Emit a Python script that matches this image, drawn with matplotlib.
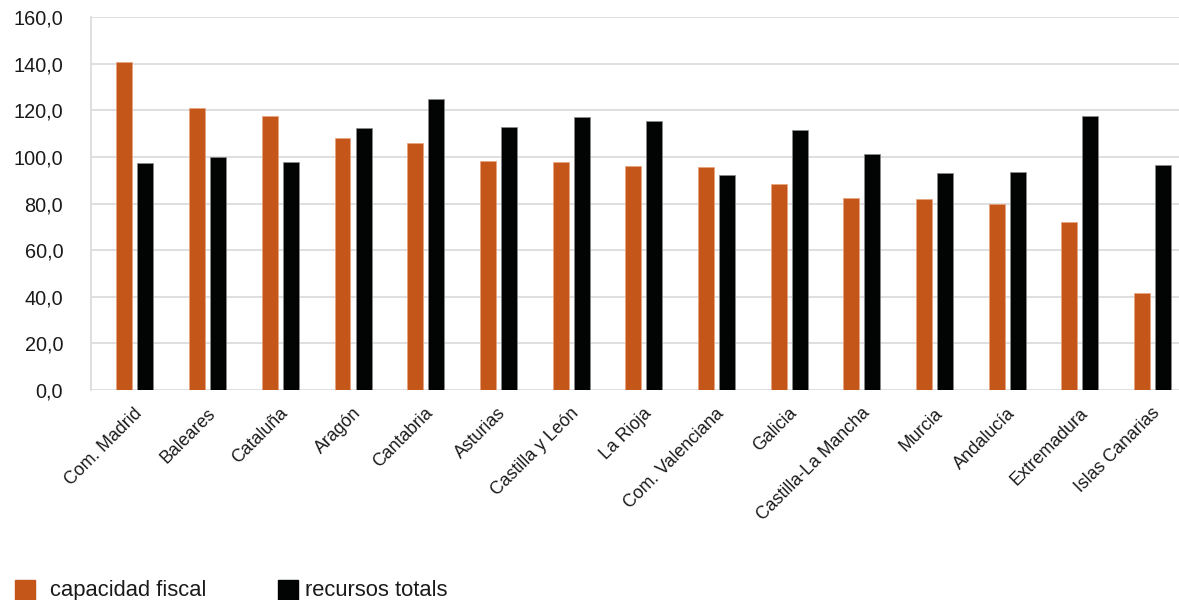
import matplotlib
matplotlib.use("Agg")
import matplotlib.pyplot as plt
from matplotlib.patches import Rectangle
import numpy as np

# datos
regiones = ["Com. Madrid", "Baleares", "Cataluña", "Aragón", "Cantabria",
            "Asturias", "Castilla y León", "La Rioja", "Com. Valenciana",
            "Galicia", "Castilla-La Mancha", "Murcia", "Andalucía",
            "Extremadura", "Islas Canarias"]
capacidad_fiscal = [140.8, 121.2, 117.7, 108.1, 106.2, 98.1, 97.8, 96.3,
                    95.6, 88.3, 82.4, 82.2, 79.9, 72.1, 41.7]
recursos_totales = [97.5, 100.0, 97.9, 112.4, 124.9, 113.1, 117.1, 115.6,
                    92.3, 111.7, 101.4, 93.3, 93.7, 117.6, 96.8]
yticks = [0, 20, 40, 60, 80, 100, 120, 140, 160]

naranja = "#C4561A"
negro = "#020403"
gris = "#dcdcdc"

plt.rcParams['font.family'] = ['Liberation Sans', 'DejaVu Sans']

fig = plt.figure(figsize=(11.79, 6.0), dpi=100)
ax = fig.add_axes([91/1179, 210/600, 1088/1179, 372.7/600])

x = np.arange(len(regiones))
w = 0.22
d = 0.1445
ax.bar(x - d, capacidad_fiscal, w, color=naranja, edgecolor="#e9a27c",
       linewidth=0.5, zorder=3)
ax.bar(x + d, recursos_totales, w, color=negro, edgecolor="#8a8a8a",
       linewidth=0.5, zorder=3)

ax.set_xlim(-0.604, 14.362)
ax.set_ylim(0, 160)
ax.set_yticks(yticks)
ax.set_yticklabels([f"{v:.1f}".replace(".", ",") for v in yticks],
                   fontsize=14.3, color="#1a1a1a")
ax.yaxis.grid(True, color=gris, linewidth=1.3, zorder=0)
ax.tick_params(axis="y", length=0, pad=20)

# etiquetas un poco a la derecha del centro del par de barras
ax.set_xticks(x + 0.07)
ax.set_xticklabels(regiones, rotation=45, ha="right", va="center",
                   rotation_mode="anchor", fontsize=12.8, color="#1a1a1a")
ax.tick_params(axis="x", length=0, pad=15)

for s in ["top", "right", "bottom"]:
    ax.spines[s].set_visible(False)
ax.spines["left"].set_color(gris)
ax.spines["left"].set_linewidth(1.3)

# leyenda abajo a la izquierda
for (x0, col, txt, tx) in [(15, naranja, "capacidad fiscal", 50),
                           (278, negro, "recursos totals", 305)]:
    fig.patches.append(Rectangle((x0/1179, 0), 20/1179, 20/600,
                                 transform=fig.transFigure, color=col))
    fig.text(tx/1179, 4/600, txt, fontsize=15.8, color="#1a1a1a",
             va="baseline", ha="left")

fig.savefig("out.png", dpi=100)
